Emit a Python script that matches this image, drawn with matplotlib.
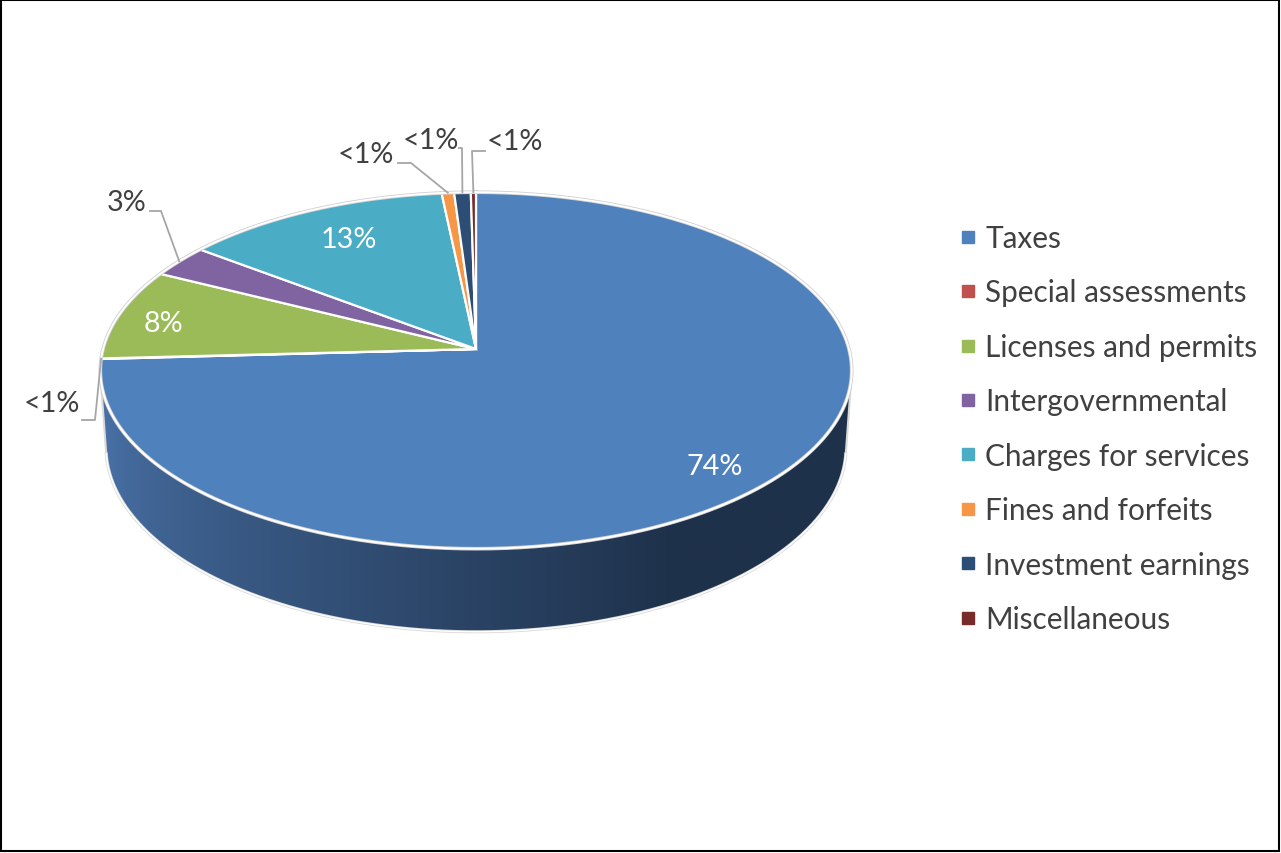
import numpy as np
import matplotlib.pyplot as plt
from matplotlib.patches import Polygon, Rectangle
from matplotlib.lines import Line2D

plt.rcParams['font.family'] = ['Lato', 'DejaVu Sans']

# === Data ===
categories = ["Taxes", "Special assessments", "Licenses and permits", "Intergovernmental",
              "Charges for services", "Fines and forfeits", "Investment earnings", "Miscellaneous"]
shares = [74.1, 0.05, 8.3, 2.95, 12.95, 0.6, 0.8, 0.25]
labels = ["74%", "<1%", "8%", "3%", "13%", "<1%", "<1%", "<1%"]
colors = ["#4F81BD", "#C0504D", "#9BBB59", "#8064A2", "#4BACC6", "#F79646", "#2C4D75", "#772C2A"]

# label layout: inside labels get a small nudge, outside ones (text pos, elbow, end of leader)
inside_nudge = {0: (-9, 7), 2: (-9, 4), 4: (15, 10)}
outside_layout = {
    1: ((52, 404), (95, 421), (82, 421)),
    3: ((127, 203), (161, 212), (150, 212)),
    5: ((366, 155), (411, 164), (398, 164)),
    6: ((431, 141), (462, 149), (459, 149)),
    7: ((515, 142), (472, 152), (485, 152)),
}

# === 3D projection of the pie ===
W, H = 1281, 854
cx, cy = 476, 350
f, D = 2730.0, 7.32
phi = np.radians(28.1)
thick = 0.235
cos_p, sin_p = np.cos(phi), np.sin(phi)


def proj(theta_deg, r=1.0, height=0.0):
    t = np.radians(theta_deg)
    X = r * np.sin(t)
    Z = r * np.cos(t)
    yc = height * cos_p + Z * sin_p
    zc = D + Z * cos_p - height * sin_p
    return cx + f * X / zc, cy - f * yc / zc


fig = plt.figure(figsize=(W / 100, H / 100), dpi=100)
ax = fig.add_axes([0, 0, 1, 1])
ax.set_xlim(0, W)
ax.set_ylim(H, 0)
ax.axis('off')

bounds = np.concatenate([[0], np.cumsum(shares)]) / sum(shares) * 360.0

# side wall (only the front part faces the camera), shaded with a gradient
lim = np.degrees(np.arccos(-1.0 / (D * cos_p)))
th = np.linspace(lim, 360 - lim, 400)
tx, ty = proj(th)
bx, by = proj(th, height=-thick)
wall = Polygon(list(zip(tx, ty)) + list(zip(bx[::-1], by[::-1])), closed=True,
               facecolor='none', edgecolor='none')
ax.add_patch(wall)
dark = np.array([30, 49, 74]) / 255
light = np.array([72, 112, 165]) / 255
x0, x1 = min(tx.min(), bx.min()) - 2, max(tx.max(), bx.max()) + 2
y0, y1 = min(ty.min(), by.min()) - 2, max(ty.max(), by.max()) + 2
xs = np.linspace(x0, x1, 800)
Xn = np.clip((xs - cx) / 373.0, -1, 1)
tht = 180 - np.degrees(np.arcsin(Xn))
k = np.clip(((tht - lim) / (360 - 2 * lim) - 0.3) / 0.7, 0, 1)
grad = dark[None, :] + (light - dark)[None, :] * k[:, None]
img = ax.imshow(grad[None, :, :], extent=(x0, x1, y1, y0), aspect='auto', zorder=1,
                interpolation='bilinear')
img.set_clip_path(wall)
ax.set_xlim(0, W)
ax.set_ylim(H, 0)
ax.plot(bx, by, color='#D9D9D9', lw=2.2, zorder=1.5)
ax.plot(bx, by, color='white', lw=1.0, zorder=1.6)
for a in (lim, 360 - lim):
    xa, ya = proj(a)
    xb, yb = proj(a, height=-thick)
    ax.plot([xa, xb], [ya, yb], color='#D9D9D9', lw=1.5, zorder=1.5)

# top face wedges
apex = proj(0, r=0)
for i, c in enumerate(colors):
    a0, a1 = bounds[i], bounds[i + 1]
    n = max(3, int((a1 - a0) * 3))
    px, py = proj(np.linspace(a0, a1, n))
    pts = [apex] + list(zip(px, py))
    ax.add_patch(Polygon(pts, closed=True, facecolor=c, edgecolor='white', lw=1.6, zorder=2))
rx, ry = proj(np.linspace(0, 360, 721))
ax.plot(rx, ry, color='#D0D0D0', lw=2.6, zorder=2.1)
ax.plot(rx, ry, color='white', lw=1.4, zorder=2.2)

# data labels
for i, lab in enumerate(labels):
    mid = 0.5 * (bounds[i] + bounds[i + 1])
    if i in inside_nudge:
        x, y = proj(mid, r=0.85)
        dx, dy = inside_nudge[i]
        ax.text(x + dx, y + dy, lab, color='white', fontsize=20.7, ha='center', va='center', zorder=3)
    else:
        (lx, ly), elbow, end = outside_layout[i]
        sx, sy = proj(mid)
        ax.plot([sx, elbow[0], end[0]], [sy, elbow[1], end[1]], color='#A6A6A6', lw=1.3, zorder=2.5)
        ax.text(lx, ly, lab, color='#404040', fontsize=20.7, ha='center', va='center', zorder=3)

# legend
handles = [Line2D([], [], marker='s', linestyle='none', markersize=8.6, color=c) for c in colors]
leg = ax.legend(handles, categories, loc='upper left', bbox_to_anchor=(961, 225),
                bbox_transform=ax.transData, frameon=False, fontsize=21.4,
                labelspacing=0.89, handlelength=0.5, handletextpad=0.32,
                borderpad=0, borderaxespad=0)
for t in leg.get_texts():
    t.set_color('#404040')

ax.add_patch(Rectangle((0.75, 0.75), W - 3, H - 3, fill=False, edgecolor='black', lw=1.5, zorder=5))

fig.savefig('out.png', dpi=100)
